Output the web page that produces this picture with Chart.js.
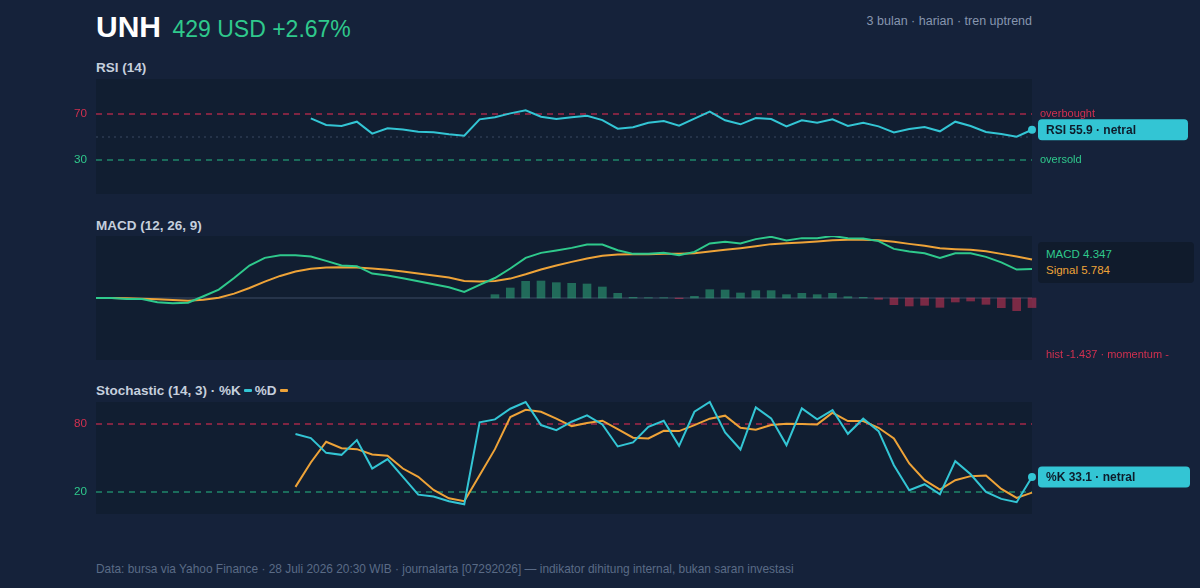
<!DOCTYPE html>
<html>
<head>
<meta charset="utf-8">
<script src="https://cdn.jsdelivr.net/npm/chart.js@4.4.1/dist/chart.umd.min.js"></script>
<style>
  body { margin: 0; background: #15223a; font-family: 'Liberation Sans', Arial, sans-serif; }
  #wrap { position: relative; width: 1200px; height: 588px; overflow: hidden; }
  .abs { position: absolute; white-space: nowrap; }
  canvas { position: absolute; left: 0; }
  .ttl { left: 96px; font-size: 13.5px; font-weight: bold; color: #c5cfdd; line-height: 16px; }
  .dash { display: inline-block; width: 8px; height: 2.5px; vertical-align: middle; margin: 0 3px 2px 3px; border-radius: 1px; }
</style>
</head>
<body>
<div id="wrap">
  <div class="abs" style="left:96px;top:9px;line-height:36px;">
    <span style="font-size:30px;font-weight:bold;color:#ffffff;">UNH</span>
    <span style="font-size:23px;color:#2fc98c;margin-left:7px;">429 USD +2.67%</span>
  </div>
  <div class="abs" style="right:168px;top:14px;font-size:12.5px;line-height:14px;color:#8796af;">3 bulan · harian · tren uptrend</div>

  <div class="abs ttl" style="top:60px;">RSI (14)</div>
  <canvas id="rsiChart" width="1200" height="135" style="top:69px;"></canvas>

  <div class="abs ttl" style="top:218px;">MACD (12, 26, 9)</div>
  <canvas id="macdChart" width="1200" height="124" style="top:236px;"></canvas>
  <div class="abs" style="left:1038px;top:242px;width:156px;height:41px;background:#101b2c;border-radius:4px;"></div>
  <div class="abs" style="left:1046px;top:247px;font-size:11.5px;line-height:14px;color:#2fc98c;">MACD 4.347</div>
  <div class="abs" style="left:1046px;top:263px;font-size:11.5px;line-height:14px;color:#eea338;">Signal 5.784</div>
  <div class="abs" style="left:1046px;top:347px;font-size:11px;line-height:14px;color:#d2304f;">hist -1.437 · momentum -</div>

  <div class="abs ttl" style="top:383px;">Stochastic (14, 3) · %K<span class="dash" style="background:#33c5d4;"></span>%D<span class="dash" style="background:#eea338;"></span></div>
  <canvas id="stochChart" width="1200" height="132" style="top:392px;"></canvas>

  <div class="abs" style="left:96px;top:562px;font-size:11.9px;line-height:14px;color:#5a6b86;">Data: bursa via Yahoo Finance · 28 Juli 2026 20:30 WIB · journalarta [07292026] — indikator dihitung internal, bukan saran investasi</div>
</div>

<script>
// hari perdagangan (3 bulan, harian)
const days = Array.from({ length: 62 }, (_, i) => 'H' + (i + 1));

// RSI (14)
const rsi = [null, null, null, null, null, null, null, null, null, null, null, null, null, null,
  65.8, 60, 59.1, 62.9, 52.5, 57.1, 56, 54.2, 53.6, 51.9,
  50.7, 64.9, 66.7, 70.1, 72.8, 67.2, 65.2, 66.7, 68.1, 64.3,
  56.8, 58, 62, 63.5, 59.4, 65.5, 71.6, 64.1, 60.6, 66.1,
  65.2, 58.8, 64.1, 62, 64.9, 59.1, 62, 58.8, 53.6, 56.5,
  58.3, 54.5, 62.9, 59.1, 53.9, 52.2, 49.9, 55.9];
const rsiTicks = [30, 70];

// MACD (12, 26, 9)
const macd = [0, 0, -0.15, -0.15, -0.65, -0.8, -0.7, 0.26, 1.26, 3.0,
  4.87, 6.02, 6.42, 6.42, 6.22, 5.57, 4.87, 4.77, 3.66, 3.36,
  2.96, 2.51, 2.06, 1.61, 0.91, 1.96, 3.0, 4.42, 6.02, 6.77,
  7.12, 7.52, 8.03, 8.03, 7.17, 6.62, 6.62, 6.77, 6.42, 6.92,
  8.18, 8.43, 8.18, 8.83, 9.18, 8.63, 8.98, 8.98, 9.3, 8.98,
  8.93, 8.53, 7.37, 6.97, 6.72, 6.02, 6.72, 6.72, 6.17, 5.35,
  4.27, 4.347];
const signal = [0, 0, -0.05, -0.1, -0.2, -0.3, -0.4, -0.25, 0.05, 0.66,
  1.5, 2.46, 3.31, 3.97, 4.37, 4.57, 4.62, 4.57, 4.42, 4.22,
  3.97, 3.67, 3.36, 3.06, 2.56, 2.46, 2.56, 2.91, 3.56, 4.27,
  4.87, 5.42, 5.92, 6.32, 6.52, 6.57, 6.57, 6.62, 6.62, 6.72,
  6.97, 7.22, 7.47, 7.77, 8.08, 8.23, 8.33, 8.48, 8.68, 8.73,
  8.73, 8.68, 8.43, 8.12, 7.83, 7.47, 7.32, 7.22, 7.02, 6.62,
  6.22, 5.784];
const hist = [null, null, null, null, null, null, null, null, null, null,
  null, null, null, null, null, null, null, null, null, null,
  null, null, null, null, null, null,
  0.5, 1.5, 2.5, 2.55, 2.3, 2.2, 2.1, 1.65, 0.7, 0.1,
  0.05, 0.05, -0.1, 0.25, 1.25, 1.2, 0.75, 1.1, 1.1, 0.5,
  0.7, 0.5, 0.7, 0.2, 0.1, -0.2, -1.0, -1.2, -1.1, -1.4,
  -0.6, -0.45, -0.95, -1.45, -1.9, -1.437];

// Stochastic (14, 3)
const stochK = [null, null, null, null, null, null, null, null, null, null, null, null, null,
  71.4, 67.8, 54.6, 52.8, 66, 40.6, 49, 33.2, 17.3, 15.6,
  11.4, 8.7, 81.8, 84.5, 94, 100, 79.4, 74.9, 82.4, 88.1,
  80, 60.3, 63.9, 77.9, 83.3, 60.9, 91.3, 100, 72.8, 57.6,
  95.2, 85.4, 61.5, 94.3, 84.5, 92.8, 71.6, 85.1, 74, 43.6,
  21.2, 26.6, 17.6, 47.2, 35.5, 19.7, 13.5, 10.5, 33.1];
const stochD = [null, null, null, null, null, null, null, null, null, null, null, null, null,
  24.2, 46, 64.5, 58.8, 57.9, 53.1, 52, 40.6, 33.2, 21.5,
  14, 11.4, 34.6, 57.9, 86.6, 93.1, 91.3, 85.1, 78.5, 81.2,
  83.3, 75.8, 68.1, 67.5, 74.3, 74, 79.4, 85.1, 87.8, 77,
  75.2, 79.4, 80.6, 80.3, 80, 90.4, 83, 83, 77, 67.5,
  45.1, 30.2, 21.8, 30.2, 33.8, 34.4, 22.4, 14.4, 19.1];
const stochTicks = [20, 80];

const CYAN = '#33c5d4', GREEN = '#2fc98c', ORANGE = '#eea338', RED = '#d2304f';
const FONT = "'Liberation Sans', Arial, sans-serif";
Chart.defaults.font.family = FONT;

// latar panel, garis acuan, label sumbu, label kanan dan pill nilai terakhir
const panelPlugin = {
  id: 'panel',
  beforeDraw(chart, args, opts) {
    const a = chart.chartArea, ctx = chart.ctx;
    ctx.save();
    ctx.fillStyle = '#111e31';
    ctx.fillRect(a.left, a.top, a.right - a.left, a.bottom - a.top);
    ctx.restore();
  },
  beforeDatasetsDraw(chart, args, opts) {
    const a = chart.chartArea, ctx = chart.ctx, y = chart.scales.y;
    (opts.refs || []).forEach(r => {
      const py = Math.round(y.getPixelForValue(r.value));
      ctx.save();
      ctx.strokeStyle = r.color;
      ctx.lineWidth = r.width || 1;
      ctx.setLineDash(r.dash || []);
      ctx.beginPath();
      ctx.moveTo(a.left, py);
      ctx.lineTo(a.right, py);
      ctx.stroke();
      ctx.setLineDash([]);
      ctx.textBaseline = 'middle';
      if (r.tick) {
        ctx.font = '11.7px ' + FONT;
        ctx.fillStyle = r.labelColor;
        ctx.textAlign = 'right';
        ctx.fillText(String(r.value), a.left - 9, py);
      }
      if (r.label) {
        ctx.font = '11px ' + FONT;
        ctx.fillStyle = r.labelColor;
        ctx.textAlign = 'left';
        ctx.fillText(r.label, a.right + 8, py);
      }
      ctx.restore();
    });
  },
  afterDraw(chart, args, opts) {
    if (!opts.pill) return;
    const p = opts.pill, ctx = chart.ctx;
    const data = chart.data.datasets[p.dataset].data;
    const v = data[data.length - 1];
    const py = chart.scales.y.getPixelForValue(v);
    const x = chart.chartArea.right + 6;
    ctx.save();
    ctx.fillStyle = CYAN;
    ctx.beginPath();
    ctx.roundRect(x, py - 10.5, p.width, 21, 4);
    ctx.fill();
    ctx.fillStyle = '#0e1c2b';
    ctx.font = 'bold 12px ' + FONT;
    ctx.textBaseline = 'middle';
    ctx.fillText(p.prefix + ' ' + v + ' · netral', x + 8, py + 0.5);
    ctx.restore();
  }
};

const lastDot = ctx => (ctx.dataIndex === days.length - 1 ? 4 : 0);

const base = {
  responsive: false,
  animation: false,
  events: [],
  elements: { line: { tension: 0, borderWidth: 2 }, point: { radius: 0 } }
};

const RED_DASH = 'rgba(214,44,80,0.75)';
const GREEN_DASH = 'rgba(40,190,135,0.65)';

new Chart(document.getElementById('rsiChart'), {
  type: 'line',
  data: {
    labels: days,
    datasets: [{
      data: rsi, borderColor: CYAN, borderWidth: 2,
      pointRadius: lastDot, pointBackgroundColor: CYAN, pointBorderWidth: 0, clip: false
    }]
  },
  options: Object.assign({}, base, {
    layout: { padding: { left: 96, right: 168, top: 10, bottom: 10 } },
    scales: {
      x: { type: 'category', display: false, offset: false },
      y: { display: false, min: 0, max: 100 }
    },
    plugins: {
      legend: { display: false }, tooltip: { enabled: false },
      panel: {
        refs: [
          { value: rsiTicks[1], tick: true, color: RED_DASH, width: 1.3, dash: [6, 5], label: 'overbought', labelColor: RED },
          { value: 50, color: '#2c3b52', width: 1.5, dash: [2, 4] },
          { value: rsiTicks[0], tick: true, color: GREEN_DASH, width: 1.3, dash: [6, 5], label: 'oversold', labelColor: GREEN }
        ],
        pill: { dataset: 0, prefix: 'RSI', width: 150 }
      }
    }
  }),
  plugins: [panelPlugin]
});

new Chart(document.getElementById('macdChart'), {
  type: 'bar',
  data: {
    labels: days,
    datasets: [
      {
        type: 'line', data: macd, borderColor: GREEN, borderWidth: 2, pointRadius: 0, order: 1
      },
      {
        type: 'line', data: signal, borderColor: ORANGE, borderWidth: 2, pointRadius: 0, order: 2
      },
      {
        type: 'bar', data: hist, barThickness: 8, order: 3, clip: false,
        backgroundColor: c => (c.raw >= 0 ? 'rgba(49,184,131,0.5)' : 'rgba(227,54,89,0.5)')
      }
    ]
  },
  options: Object.assign({}, base, {
    layout: { padding: { left: 96, right: 168, top: 0, bottom: 0 } },
    scales: {
      x: { type: 'category', display: false, offset: false },
      y: { display: false, min: -9.3, max: 9.3 }
    },
    plugins: {
      legend: { display: false }, tooltip: { enabled: false },
      panel: {
        refs: [{ value: 0, color: '#26344a', width: 2 }]
      }
    }
  }),
  plugins: [panelPlugin]
});

new Chart(document.getElementById('stochChart'), {
  type: 'line',
  data: {
    labels: days,
    datasets: [
      {
        data: stochK, borderColor: CYAN, borderWidth: 2, order: 1,
        pointRadius: lastDot, pointBackgroundColor: CYAN, pointBorderWidth: 0, clip: false
      },
      { data: stochD, borderColor: ORANGE, borderWidth: 2, pointRadius: 0, order: 2 }
    ]
  },
  options: Object.assign({}, base, {
    layout: { padding: { left: 96, right: 168, top: 10, bottom: 10 } },
    scales: {
      x: { type: 'category', display: false, offset: false },
      y: { display: false, min: 0, max: 100 }
    },
    plugins: {
      legend: { display: false }, tooltip: { enabled: false },
      panel: {
        refs: [
          { value: stochTicks[1], tick: true, color: RED_DASH, width: 1.3, dash: [6, 5], labelColor: RED },
          { value: stochTicks[0], tick: true, color: GREEN_DASH, width: 1.3, dash: [6, 5], labelColor: GREEN }
        ],
        pill: { dataset: 0, prefix: '%K', width: 152 }
      }
    }
  }),
  plugins: [panelPlugin]
});
</script>
</body>
</html>
